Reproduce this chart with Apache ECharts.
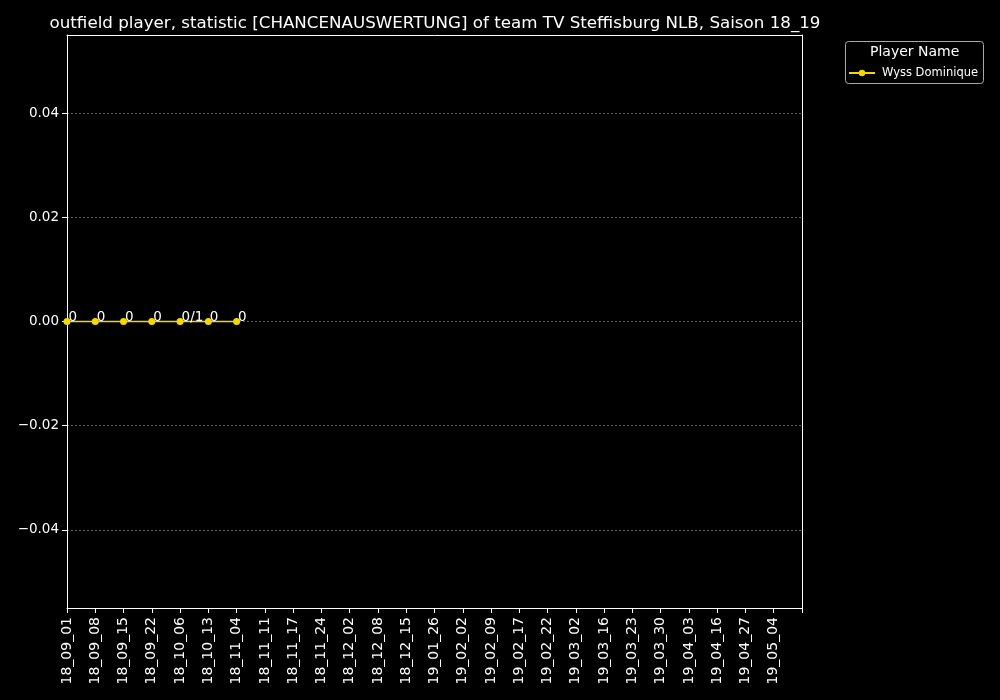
<!DOCTYPE html>
<html>
<head>
<meta charset="utf-8">
<script src="https://cdn.jsdelivr.net/npm/echarts@6/dist/echarts.min.js"></script>
<style>html,body{margin:0;padding:0;background:#000;}#c{width:1000px;height:700px;}</style>
</head>
<body>
<div id="c"></div>
<script>
const categories = ['18_09_01','18_09_08','18_09_15','18_09_22','18_10_06','18_10_13','18_11_04','18_11_11','18_11_17','18_11_24','18_12_02','18_12_08','18_12_15','19_01_26','19_02_02','19_02_09','19_02_17','19_02_22','19_03_02','19_03_16','19_03_23','19_03_30','19_04_03','19_04_16','19_04_27','19_05_04',''];
const seriesName = 'Wyss Dominique';
const values = [0, 0, 0, 0, 0, 0, 0];
const pointLabels = ['0', '0', '0', '0', '0/1', '0', '0'];
const yTicks = [-0.04, -0.02, 0, 0.02, 0.04];
const yMin = -0.055, yMax = 0.055;

const FONT = 'DejaVu Sans';
const chart = echarts.init(document.getElementById('c'));
chart.setOption({
  backgroundColor: '#000',
  animation: false,
  title: {
    text: 'outfield player, statistic [CHANCENAUSWERTUNG] of team TV Steffisburg NLB, Saison 18_19',
    left: 430, top: 10, textAlign: 'center',
    textStyle: {color: '#fff', fontFamily: FONT, fontSize: 16.7, fontWeight: 'normal'}
  },
  graphic: [
    {type: 'rect', left: 845, top: 41, shape: {width: 138, height: 42, r: 3},
     style: {fill: '#000', stroke: '#aaa', lineWidth: 1}, z: 0},
    {type: 'text', left: 870, top: 45,
     style: {text: 'Player Name', fill: '#fff', font: '14px "DejaVu Sans"'}, z: 1}
  ],
  legend: {
    left: 843, top: 62, itemWidth: 26, itemHeight: 8, itemGap: 6,
    textStyle: {color: '#fff', fontFamily: FONT, fontSize: 11.5, padding: [0, 0, 0, 2]},
    data: [seriesName], z: 5
  },
  grid: {left: 67, right: 198, top: 35, bottom: 92, containLabel: false},
  xAxis: [{
    type: 'category', data: categories, boundaryGap: false,
    axisLine: {onZero: false, lineStyle: {color: '#fff', width: 1}},
    axisTick: {show: true, interval: 0, length: 5, lineStyle: {color: '#fff'}},
    axisLabel: {interval: 0, rotate: 90, color: '#fff', fontFamily: FONT, fontSize: 14, margin: 9},
    splitLine: {show: false}
  }, {
    type: 'category', data: categories, boundaryGap: false, position: 'top',
    axisLine: {onZero: false, lineStyle: {color: '#fff', width: 1}},
    axisTick: {show: false}, axisLabel: {show: false}, splitLine: {show: false}
  }],
  yAxis: [{
    type: 'value', min: yMin, max: yMax,
    axisLine: {show: true, onZero: false, lineStyle: {color: '#fff', width: 1}},
    axisTick: {show: true, length: 5, customValues: yTicks, lineStyle: {color: '#fff'}},
    axisLabel: {color: '#fff', fontFamily: FONT, fontSize: 13.5, margin: 8, customValues: yTicks,
      formatter: v => (v < 0 ? '\u2212' : '') + Math.abs(v).toFixed(2)},
    splitLine: {show: true, lineStyle: {color: '#888', width: 0.7, type: [2, 2]}}
  }, {
    type: 'value', min: yMin, max: yMax, position: 'right',
    axisLine: {show: true, onZero: false, lineStyle: {color: '#fff', width: 1}},
    axisTick: {show: false}, axisLabel: {show: false}, splitLine: {show: false}
  }],
  series: [{
    name: seriesName, type: 'line', data: values,
    color: '#f5d800',
    symbol: 'circle', symbolSize: 7,
    lineStyle: {width: 1.5, color: '#f5d800'},
    itemStyle: {color: '#f5d800'},
    label: {
      show: true, position: 'top', align: 'left', distance: 0, offset: [1.5, 6],
      color: '#fff', fontFamily: FONT, fontSize: 13.5,
      formatter: p => pointLabels[p.dataIndex]
    },
    z: 3
  }]
});
</script>
</body>
</html>
